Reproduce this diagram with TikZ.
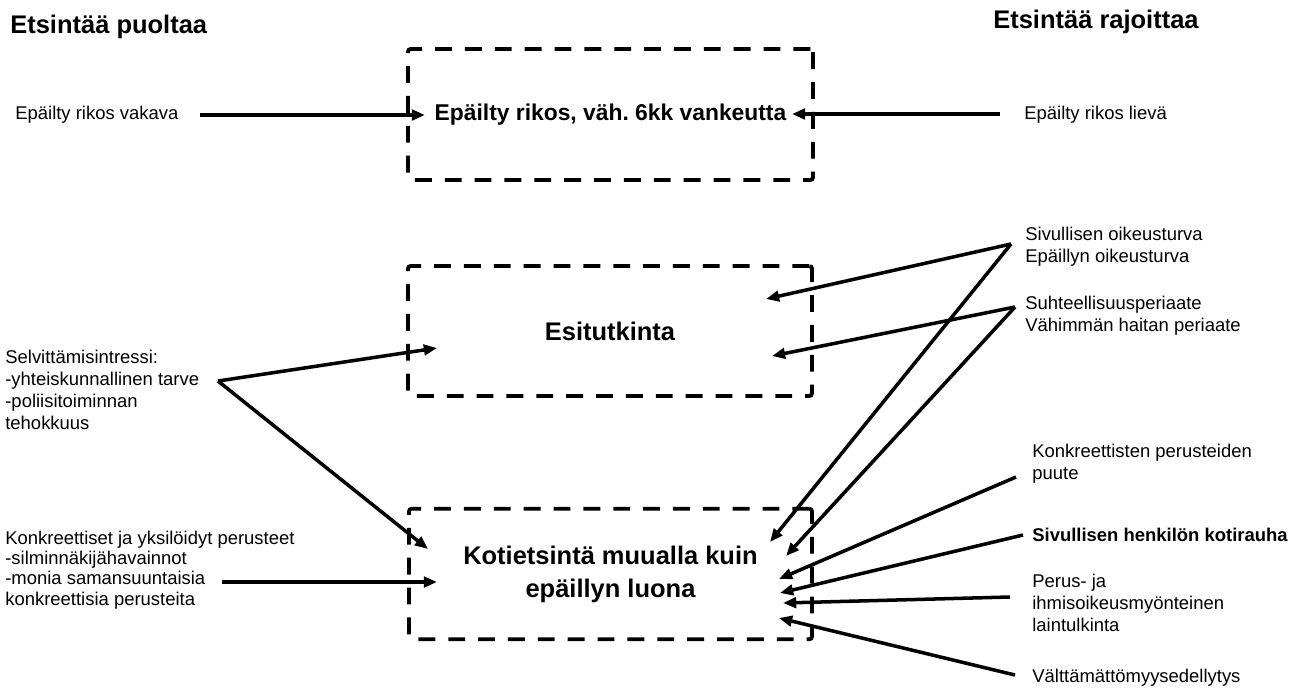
\documentclass[tikz,border=0pt]{standalone}
\usepackage{fontspec}
\setmainfont{Liberation Sans}
\usetikzlibrary{positioning,arrows.meta}
\frenchspacing

\begin{document}
\begin{tikzpicture}[x=0.02cm,y=-0.02cm,
  box/.style={draw,dash pattern=on 9.6pt off 7.4pt,line width=2.2pt,rounded corners=1.5pt,inner sep=0pt,align=center},
  lab/.style={anchor=west,align=left,inner sep=0pt,font=\fontsize{10.5}{12.5}\selectfont},
  head/.style={anchor=west,inner sep=0pt,font=\fontsize{14.5}{17}\selectfont\bfseries},
  arr/.style={-{Triangle[length=7.5pt,width=6pt]},line width=2pt}]
  \useasboundingbox (0,0) rectangle (1303,691);

  \node[head] (puolt) at (10,27) {Etsintää puoltaa};
  \node[head] (rajoit) at (993,22) {Etsintää rajoittaa};

  \node[box,minimum width=8.1cm,minimum height=2.62cm,font=\fontsize{13}{15}\selectfont\bfseries] (rikos) at (610.5,114.5) {Epäilty rikos, väh. 6kk vankeutta};
  \node[box,minimum width=8.08cm,minimum height=2.6cm,font=\fontsize{14.5}{17}\selectfont\bfseries] (esit) at (610,331) {Esitutkinta};
  \node[box,minimum width=8.06cm,minimum height=2.61cm,font=\fontsize{14.5}{18.7}\selectfont\bfseries] (koti) at (610.5,574) {Kotietsintä muualla kuin\\epäillyn luona};

  \node[lab] (vakava) at (15,115) {Epäilty rikos vakava};
  \node[lab] (lieva) at (1024,115) {Epäilty rikos lievä};
  \node[lab] (selv) at (5,390) {Selvittämisintressi:\\-yhteiskunnallinen tarve\\-poliisitoiminnan\\tehokkuus};
  \node[lab,font=\fontsize{10.5}{11.5}\selectfont] (konk) at (5,570) {Konkreettiset ja yksilöidyt perusteet\\-silminnäkijähavainnot\\-monia samansuuntaisia\\konkreettisia perusteita};
  \node[lab] (oik) at (1025,246.5) {Sivullisen oikeusturva\\Epäillyn oikeusturva};
  \node[lab] (suht) at (1025,316) {Suhteellisuusperiaate\\Vähimmän haitan periaate};
  \node[lab] (puute) at (1032,464) {Konkreettisten perusteiden\\puute};
  \node[lab,font=\fontsize{10.5}{12.5}\selectfont\bfseries] (rauha) at (1032,535) {Sivullisen henkilön kotirauha};
  \node[lab] (perus) at (1032,602.5) {Perus- ja\\ihmisoikeusmyönteinen\\laintulkinta};
  \node[lab] (valt) at (1032,678) {Välttämättömyysedellytys};

  \coordinate (vs) at (200,115);   \coordinate (vt) at (425,115);
  \coordinate (ls) at (1000,114);  \coordinate (lt) at (792,114);
  \coordinate (sv) at (218,381);
  \coordinate (ov) at (1011,244);
  \coordinate (pv) at (1015,307);
  \coordinate (ks) at (222,582);   \coordinate (kt) at (437,582);

  \draw[arr] (vs) -- (vt);
  \draw[arr] (ls) -- (lt);
  \draw[arr] (sv) -- (437,348);
  \draw[arr] (sv) -- (428,549);
  \draw[arr] (ks) -- (kt);
  \draw[arr] (ov) -- (766,299);
  \draw[arr] (ov) -- (770,542);
  \draw[arr] (pv) -- (772,356);
  \draw[arr] (pv) -- (786,556);
  \foreach \sx/\sy/\tx/\ty in {1016/477/779/579, 1023/535/780/593, 1010/597/783/603, 1015/675/779/618}
    \draw[arr] (\sx,\sy) -- (\tx,\ty);
\end{tikzpicture}
\end{document}
